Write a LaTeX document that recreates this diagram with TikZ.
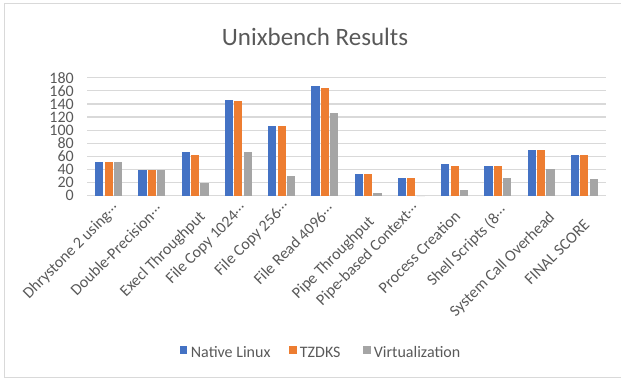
\documentclass[tikz,border=0pt]{standalone}
\usepackage{fontspec}
\setmainfont{Carlito}
\definecolor{txt}{HTML}{595959}
\definecolor{gridc}{HTML}{D9D9D9}
\definecolor{cblue}{HTML}{4472C4}
\definecolor{corange}{HTML}{ED7D31}
\definecolor{cgray}{HTML}{A5A5A5}
\newcommand{\myell}{\raisebox{0.22em}{…}}
\begin{document}
\begin{tikzpicture}[x=1pt,y=-1pt,
  tick/.style={font=\fontsize{16}{18}\selectfont, text=txt, anchor=east, inner sep=0pt},
  catlab/.style={font=\fontsize{16}{18}\selectfont, text=txt, anchor=base east, rotate=45, inner sep=0pt},
  legtxt/.style={font=\fontsize{16}{18}\selectfont, text=txt, anchor=base west, inner sep=0pt},
  legbox/.style={minimum width=7.6pt, minimum height=7.6pt, inner sep=0pt, anchor=north west}]
\useasboundingbox (0,0) rectangle (621,381);
\begin{scope}
\clip (0,0) rectangle (621,381);
\draw[gridc, line width=1pt] (4.5,3.5) rectangle (630,377.5);
\end{scope}
% title
\node[font=\fontsize{25}{28}\selectfont, text=txt, inner sep=0pt, anchor=base] (title) at (315,45) {Unixbench Results};
% grid + ticks
\foreach \v [count=\i] in {0,20,...,180} {
  \draw[gridc, line width=1.2pt] (87,{195.7-\v*0.6556}) -- (606,{195.7-\v*0.6556});
  \node[tick] (t\i) at (74,{195.7-\v*0.6556}) {\v};
}
% bars
\foreach \a/\b/\c [count=\i] in {51.5/51.5/52, 38.5/38.5/38.5, 67/62/19.5, 146.5/144/67, 106.5/106.5/30, 167.5/165/125.5, 33/33/3.5, 27.5/27.5/0, 48.5/46/8.5, 46/46/27.5, 69.5/69.5/40.5, 61.5/61.5/25} {
  \pgfmathsetmacro{\cx}{87+43.25*(\i-0.5)}
  \fill[cblue] ({\cx-9.3-4.1},195.7) rectangle ({\cx-9.3+4.1},{195.7-\a*0.6556});
  \fill[corange] ({\cx-4.1},195.7) rectangle ({\cx+4.1},{195.7-\b*0.6556});
  \fill[cgray] ({\cx+9.3-4.1},195.7) rectangle ({\cx+9.3+4.1},{195.7-\c*0.6556});
}
% category labels
\node[catlab] (c1) at (119.5,209) {Dhrystone 2 using\myell};
\node[catlab] (c2) at (163,210.5) {Double-Precision\myell};
\node[catlab] (c3) at (206,217.6) {Execl Throughput};
\node[catlab] (c4) at (247,209) {File Copy 1024\myell};
\node[catlab] (c5) at (290,207) {File Copy 256\myell};
\node[catlab] (c6) at (335,210.5) {File Read 4096\myell};
\node[catlab] (c7) at (375,222.6) {Pipe Throughput};
\node[catlab] (c8) at (419.5,209) {Pipe-based Context\myell};
\node[catlab] (c9) at (461.5,217.5) {Process Creation};
\node[catlab] (c10) at (508,212) {Shell Scripts (8\myell};
\node[catlab] (c11) at (555.5,218) {System Call Overhead};
\node[catlab] (c12) at (590.6,226) {FINAL SCORE};
% legend
\node[legbox, fill=cblue] (lb1) at (179.5,345.7) {};
\node[legtxt] (lt1) at (190.7,357.3) {Native Linux};
\node[legbox, fill=corange] (lb2) at (288.7,345.7) {};
\node[legtxt] (lt2) at (299.7,357.3) {TZDKS};
\node[legbox, fill=cgray] (lb3) at (362.7,345.7) {};
\node[legtxt] (lt3) at (373.7,357.3) {Virtualization};
\end{tikzpicture}
\end{document}
